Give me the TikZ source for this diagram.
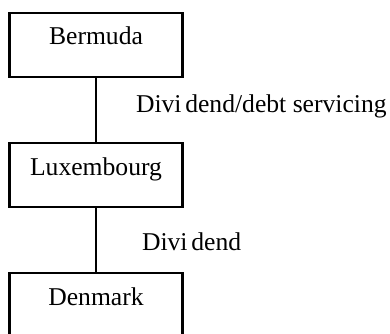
\documentclass[tikz,border=0pt]{standalone}
\usepackage{fontspec}
\setmainfont{Liberation Serif}
\usetikzlibrary{positioning}

\begin{document}
\begin{tikzpicture}[x=0.48pt,y=-0.48pt,
  country/.style={draw,line width=1.1pt,minimum width=83pt,minimum height=30.7pt,
    text height=6pt,text depth=6pt,inner sep=0pt,font=\fontsize{12.3}{14}\selectfont},
  flow/.style={anchor=base west,inner sep=0pt,font=\fontsize{12.3}{14}\selectfont}]
\useasboundingbox (0,0) rectangle (390,334);
\clip (0,0) rectangle (390,334);
\node[country] (bermuda) at (96,45) {Bermuda};
\node[country,below=30.6pt of bermuda] (luxembourg) {Luxembourg};
\node[country,below=30.6pt of luxembourg] (denmark) {Denmark};
\draw[line width=1pt] (bermuda) -- node[flow,pos=0.545,xshift=18.7pt]{Divi\kern1.8pt dend/debt servicing} (luxembourg);
\draw[line width=1pt] (luxembourg) -- node[flow,pos=0.667,xshift=21.6pt]{Divi\kern1.8pt dend} (denmark);
\end{tikzpicture}
\end{document}
